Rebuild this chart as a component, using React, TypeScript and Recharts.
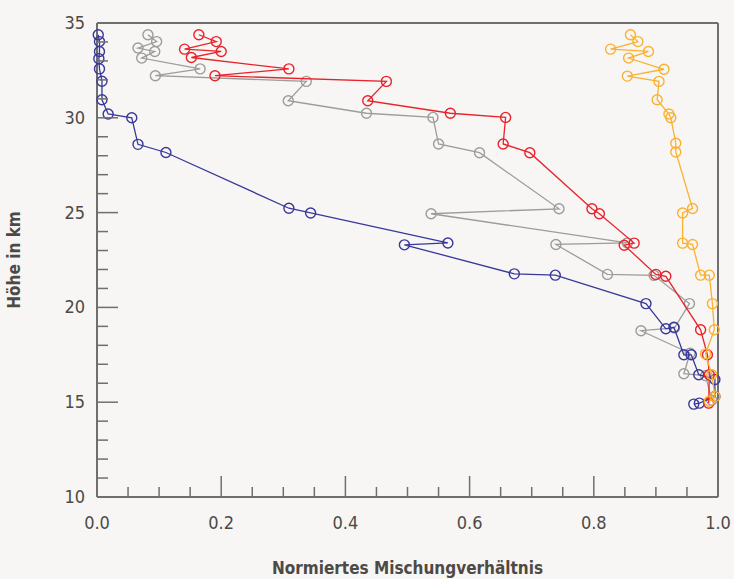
import { Label, Scatter, ScatterChart, XAxis, YAxis } from "recharts";

const xTicks = [0, 0.05, 0.1, 0.15, 0.2, 0.25, 0.3, 0.35, 0.4, 0.45, 0.5, 0.55, 0.6, 0.65, 0.7, 0.75, 0.8, 0.85, 0.9, 0.95, 1];
const yTicks = [10, 11, 12, 13, 14, 15, 16, 17, 18, 19, 20, 21, 22, 23, 24, 25, 26, 27, 28, 29, 30, 31, 32, 33, 34, 35];

// [Mischungsverhältnis, Höhe km]
const blue = [
  [0.002, 34.38], [0.004, 34.02], [0.004, 33.5], [0.003, 33.12], [0.004, 32.58], [0.008, 31.93],
  [0.008, 30.95], [0.018, 30.2], [0.056, 30.0], [0.066, 28.6], [0.111, 28.17], [0.309, 25.23],
  [0.344, 24.98], [0.565, 23.4], [0.495, 23.3], [0.672, 21.77], [0.738, 21.7], [0.884, 20.2],
  [0.916, 18.87], [0.929, 18.95], [0.945, 17.5], [0.957, 17.5], [0.969, 16.45], [0.995, 16.2],
  [0.995, 15.3], [0.97, 14.95], [0.961, 14.9],
];
const gray = [
  [0.082, 34.38], [0.096, 34.02], [0.066, 33.68], [0.093, 33.5], [0.072, 33.15], [0.166, 32.58],
  [0.094, 32.22], [0.337, 31.92], [0.308, 30.9], [0.434, 30.24], [0.541, 30.02], [0.55, 28.62],
  [0.616, 28.16], [0.744, 25.2], [0.538, 24.94], [0.854, 23.4], [0.739, 23.32], [0.822, 21.74],
  [0.897, 21.69], [0.954, 20.2], [0.93, 18.92], [0.876, 18.77], [0.955, 17.58], [0.945, 16.5],
  [0.98, 16.4], [0.99, 15.1],
];
const red = [
  [0.164, 34.38], [0.192, 34.02], [0.141, 33.62], [0.2, 33.5], [0.152, 33.18], [0.309, 32.58],
  [0.19, 32.22], [0.466, 31.92], [0.436, 30.9], [0.569, 30.24], [0.658, 30.02], [0.654, 28.62],
  [0.697, 28.16], [0.797, 25.2], [0.809, 24.94], [0.865, 23.39], [0.849, 23.28], [0.9, 21.74],
  [0.916, 21.64], [0.972, 18.82], [0.983, 17.5], [0.986, 16.45], [0.985, 14.95],
];
const orange = [
  [0.859, 34.38], [0.871, 34.02], [0.827, 33.62], [0.888, 33.5], [0.856, 33.15], [0.913, 32.56],
  [0.854, 32.2], [0.905, 31.92], [0.902, 30.95], [0.921, 30.2], [0.924, 30.0], [0.932, 28.66],
  [0.932, 28.2], [0.959, 25.22], [0.943, 24.98], [0.943, 23.39], [0.959, 23.32], [0.972, 21.7],
  [0.986, 21.7], [0.991, 20.2], [0.994, 18.82], [0.98, 17.55], [0.99, 16.45], [0.995, 15.3],
  [0.986, 15.05],
];

const series = [
  { name: "grau", color: "#9c9c9c", points: gray },
  { name: "blau", color: "#38389a", points: blue },
  { name: "rot", color: "#e8232b", points: red },
  { name: "orange", color: "#fbb130", points: orange },
];

const font = "'Liberation Sans Narrow', 'DejaVu Sans Condensed', 'Roboto', sans-serif";
const axisColor = "#6f6f6f";
const textColor = "#4d4a46";

const isMajorX = (v: number) => Math.abs(v * 5 - Math.round(v * 5)) < 1e-6;
const isMajorY = (v: number) => v % 5 === 0;

function BottomTick(props: any) {
  const { x, y, payload } = props;
  const major = isMajorX(payload.value);
  return (
    <g>
      <line x1={x} y1={y} x2={x} y2={y - (major ? 21 : 10)} stroke={axisColor} strokeWidth={1.5} />
      {major && (
        <text x={x} y={y + 32} textAnchor="middle" fill={textColor} fontSize={18} fontFamily={font}>
          {payload.value.toFixed(1)}
        </text>
      )}
    </g>
  );
}

function TopTick(props: any) {
  const { x, y, payload } = props;
  const major = isMajorX(payload.value);
  return <line x1={x} y1={y} x2={x} y2={y + (major ? 21 : 10)} stroke={axisColor} strokeWidth={1.5} />;
}

function LeftTick(props: any) {
  const { x, y, payload } = props;
  const major = isMajorY(payload.value);
  return (
    <g>
      <line x1={x} y1={y} x2={x + (major ? 21 : 11)} y2={y} stroke={axisColor} strokeWidth={1.5} />
      {major && (
        <text x={x - 12} y={y + 6} textAnchor="end" fill={textColor} fontSize={18} fontFamily={font}>
          {payload.value}
        </text>
      )}
    </g>
  );
}

function RightTick(props: any) {
  const { x, y, payload } = props;
  const major = isMajorY(payload.value);
  return <line x1={x} y1={y} x2={x - (major ? 21 : 11)} y2={y} stroke={axisColor} strokeWidth={1.5} />;
}

function ring(color: string) {
  return (p: any) => <circle cx={p.cx} cy={p.cy} r={5} fill="none" stroke={color} strokeWidth={1.4} />;
}

export default function App() {
  return (
    <div style={{ position: "fixed", left: 0, top: 0, width: 734, height: 579, background: "#f7f6f4" }}>
      <ScatterChart width={734} height={579} margin={{ top: 0, right: 0, bottom: 0, left: 0 }}>
        <XAxis
          type="number"
          dataKey="x"
          domain={[0, 1]}
          ticks={xTicks}
          interval={0}
          tickSize={0}
          tickMargin={0}
          tickLine={false}
          tick={<BottomTick />}
          axisLine={{ stroke: axisColor, strokeWidth: 2 }}
          height={82}
        >
          <Label
            value="Normiertes Mischungverhältnis"
            position="insideBottom"
            offset={5}
            style={{ fontFamily: font, fontWeight: 700, fontSize: 17, fill: textColor }}
          />
        </XAxis>
        <XAxis
          xAxisId="top"
          orientation="top"
          type="number"
          domain={[0, 1]}
          ticks={xTicks}
          interval={0}
          tickSize={0}
          tickMargin={0}
          tickLine={false}
          tick={<TopTick />}
          axisLine={{ stroke: axisColor, strokeWidth: 2 }}
          height={23}
        />
        <YAxis
          type="number"
          dataKey="y"
          domain={[10, 35]}
          ticks={yTicks}
          interval={0}
          tickSize={0}
          tickMargin={0}
          tickLine={false}
          tick={<LeftTick />}
          axisLine={{ stroke: axisColor, strokeWidth: 2 }}
          width={97}
        >
          <Label
            value="Höhe in km"
            angle={-90}
            position="insideLeft"
            offset={14}
            style={{ fontFamily: font, fontWeight: 700, fontSize: 17, fill: textColor, textAnchor: "middle" }}
          />
        </YAxis>
        <YAxis
          yAxisId="right"
          orientation="right"
          type="number"
          domain={[10, 35]}
          ticks={yTicks}
          interval={0}
          tickSize={0}
          tickMargin={0}
          tickLine={false}
          tick={<RightTick />}
          axisLine={{ stroke: axisColor, strokeWidth: 2 }}
          width={16}
        />
        {series.map((s) => (
          <Scatter
            key={s.name}
            name={s.name}
            data={s.points.map(([x, y]) => ({ x, y }))}
            line={{ stroke: s.color, strokeWidth: 1.3 }}
            shape={ring(s.color)}
            isAnimationActive={false}
          />
        ))}
      </ScatterChart>
    </div>
  );
}
